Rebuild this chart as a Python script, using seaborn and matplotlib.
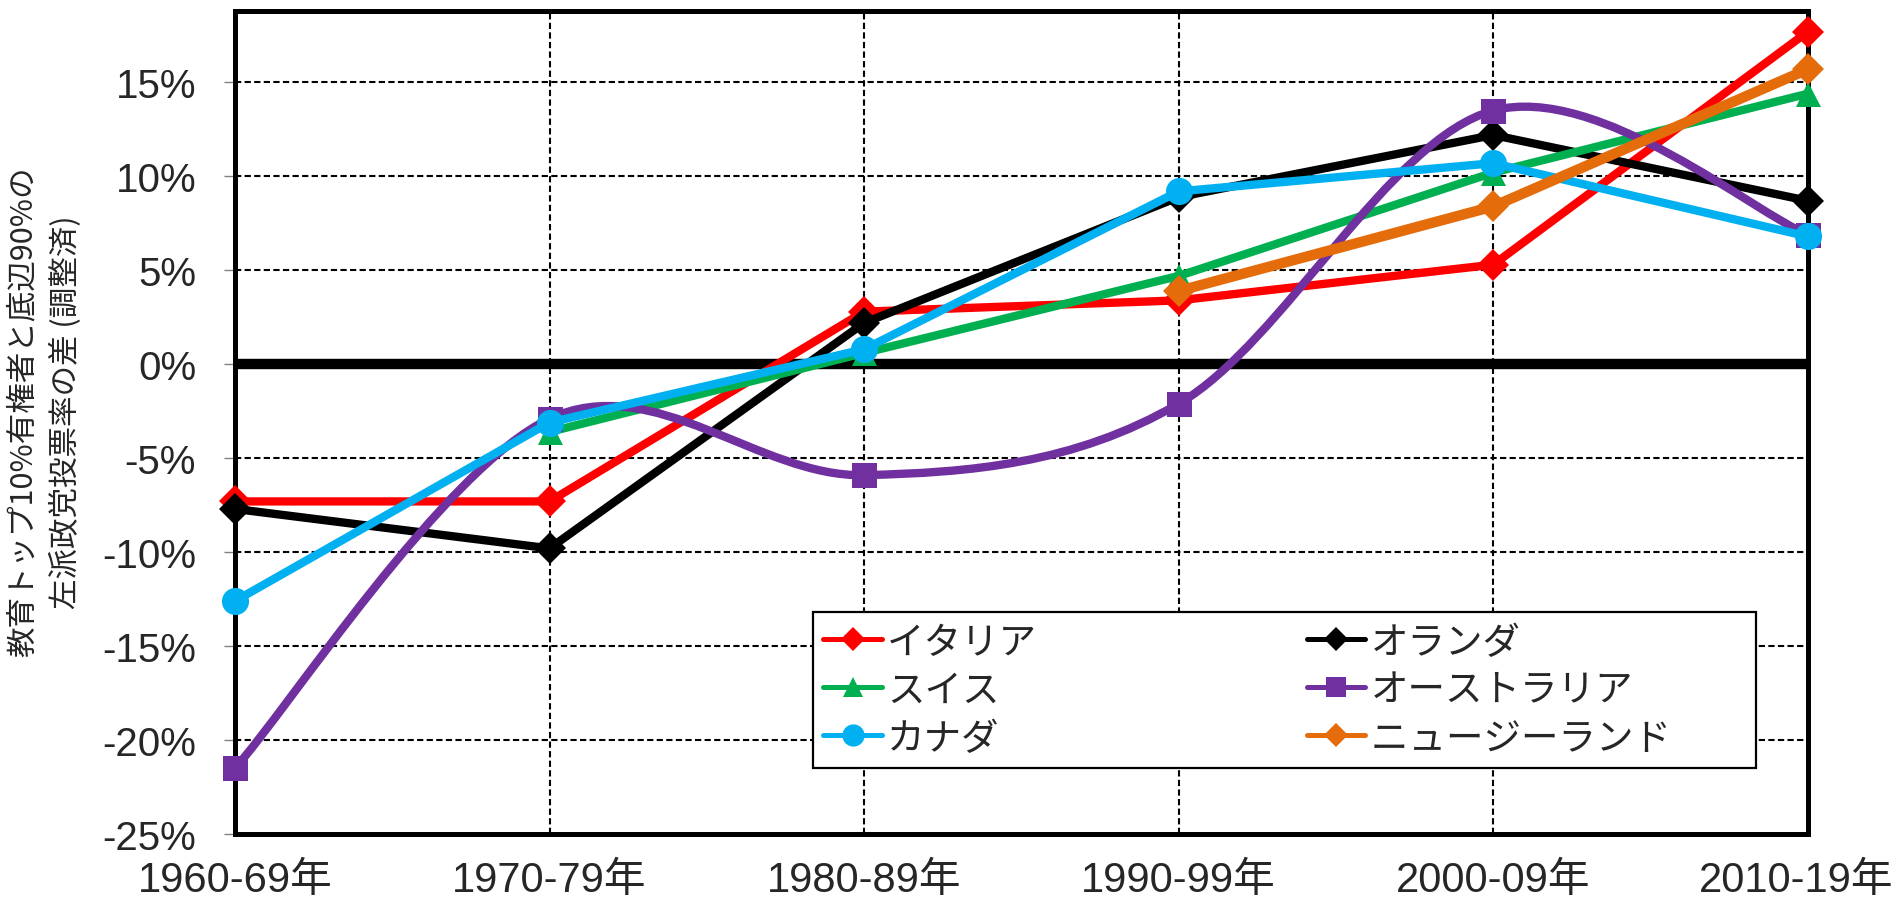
import matplotlib
matplotlib.use("Agg")
import matplotlib.pyplot as plt
import matplotlib.transforms as mtransforms
from matplotlib.lines import Line2D
from matplotlib.path import Path
from matplotlib.patches import PathPatch
from matplotlib.ticker import FuncFormatter
import numpy as np
import seaborn as sns

## data (difference in left-vote share, %)
periods = ["1960-69年", "1970-79年", "1980-89年", "1990-99年", "2000-09年", "2010-19年"]
italy = [-7.3, -7.3, 2.8, 3.4, 5.3, 17.7]
netherlands = [-7.7, -9.8, 2.2, 8.9, 12.2, 8.7]
switzerland = [np.nan, -3.6, 0.6, 4.7, 10.2, 14.4]
australia = [-21.5, -2.9, -5.9, -2.1, 13.5, 6.9]
canada = [-12.6, -3.1, 0.8, 9.2, 10.7, 6.8]
new_zealand = [np.nan, np.nan, np.nan, 3.9, 8.4, 15.7]

names = ["イタリア", "オランダ", "スイス", "オーストラリア", "カナダ", "ニュージーランド"]
yticks = [-25, -20, -15, -10, -5, 0, 5, 10, 15]
ylabel = "教育トップ10%有権者と底辺90%の\n左派政党投票率の差 (調整済)"

## styles per series
series = [italy, netherlands, switzerland, australia, canada, new_zealand]
colors = ["#FF0000", "#000000", "#00B050", "#7030A0", "#00B0F0", "#E46C0A"]
markers = ["D", "D", "^", "s", "o", "D"]
msizes = [16.5, 16.5, 18, 18, 19.5, 16.5]
lwidths = [6, 6, 6, 6, 6, 7.5]
leg_msizes = [12, 12, 15, 15, 16, 12]

sns.set_style("white")
plt.rcParams["font.family"] = ["Liberation Sans", "Noto Sans CJK JP", "DejaVu Sans"]
jp_font = ["Noto Sans CJK JP", "DejaVu Sans"]

fig = plt.figure(figsize=(19.01, 9.03), dpi=100)
ax = fig.add_axes([0.1236, 0.0753, 0.8274, 0.9114])

x = np.arange(len(periods))


def smooth_path(xs, ys):
    # Excel-like smoothed line: cubic bezier with catmull-rom control points
    pts = np.column_stack([xs, ys])
    verts = [pts[0]]
    codes = [Path.MOVETO]
    n = len(pts)
    for i in range(n - 1):
        p_prev = pts[max(i - 1, 0)]
        p0, p1 = pts[i], pts[i + 1]
        p_next = pts[min(i + 2, n - 1)]
        c1 = p0 + (p1 - p_prev) / 6.0
        c2 = p1 - (p_next - p0) / 6.0
        verts += [c1, c2, p1]
        codes += [Path.CURVE4] * 3
    return Path(verts, codes)


for i, vals in enumerate(series):
    vals = np.array(vals, dtype=float)
    ok = ~np.isnan(vals)
    if names[i] == "オーストラリア":
        ## smoothed line + markers only
        patch = PathPatch(smooth_path(x[ok], vals[ok]), facecolor="none",
                          edgecolor=colors[i], lw=lwidths[i], zorder=3 + i,
                          joinstyle="round", capstyle="round", clip_on=False)
        ax.add_patch(patch)
        ax.plot(x[ok], vals[ok], linestyle="none", marker=markers[i],
                markersize=msizes[i], markeredgewidth=0, color=colors[i],
                zorder=3 + i, clip_on=False)
        continue
    sns.lineplot(x=x[ok], y=vals[ok], ax=ax, color=colors[i],
                 marker=markers[i], markersize=msizes[i], markeredgewidth=0,
                 linewidth=lwidths[i], estimator=None, zorder=3 + i,
                 solid_joinstyle="round", solid_capstyle="round", clip_on=False)

## zero line
ax.axhline(0, color="black", linewidth=7.5, zorder=2)

## axes, grid, ticks
ax.set_xlim(0, len(periods) - 1)
ax.set_ylim(-25, 18.8)
ax.set_xticks(x)
ax.set_xticklabels(periods)
ax.set_yticks(yticks)
ax.yaxis.set_major_formatter(FuncFormatter(lambda v, p: f"{v:.0f}%"))
ax.grid(True, color="black", linewidth=1.5, linestyle=(0, (3, 1.6)))
ax.set_axisbelow(True)
for s in ax.spines.values():
    s.set_color("black")
    s.set_linewidth(3.6)
ax.tick_params(axis="y", direction="out", length=8, width=1, color="#808080",
               labelsize=29, pad=20, left=True)
ax.tick_params(axis="x", length=0, labelsize=30, pad=19)

## keep the last period label inside the canvas
last = ax.get_xticklabels()[-1]
last.set_transform(last.get_transform() +
                   mtransforms.ScaledTranslation(-12 / 100, 0, fig.dpi_scale_trans))

ax.set_ylabel(ylabel, fontsize=22, family=jp_font, linespacing=1.45)
ax.yaxis.set_label_coords(-0.097, 0.514)

## legend
handles = [Line2D([0], [0], color=colors[i], lw=3.6, marker=markers[i],
                  markersize=leg_msizes[i], markeredgewidth=0,
                  solid_capstyle="round")
           for i in range(len(names))]
order = [0, 2, 4, 1, 3, 5]
labels = [names[i] for i in order]
labels[-1] = labels[-1] + "\u3000\u3000"  # widen the box like the original
leg = ax.legend([handles[i] for i in order], labels,
                ncol=2, loc="upper left", bbox_to_anchor=(0.3675, 0.2697),
                borderaxespad=0, prop={"family": jp_font, "size": 27},
                frameon=True, fancybox=False, framealpha=1, edgecolor="black",
                handlelength=1.55, handletextpad=0.15, labelspacing=0.24,
                columnspacing=7.2, borderpad=0.28)
leg.get_frame().set_linewidth(1.6)
leg.set_zorder(20)

fig.savefig("out.png", dpi=100)
